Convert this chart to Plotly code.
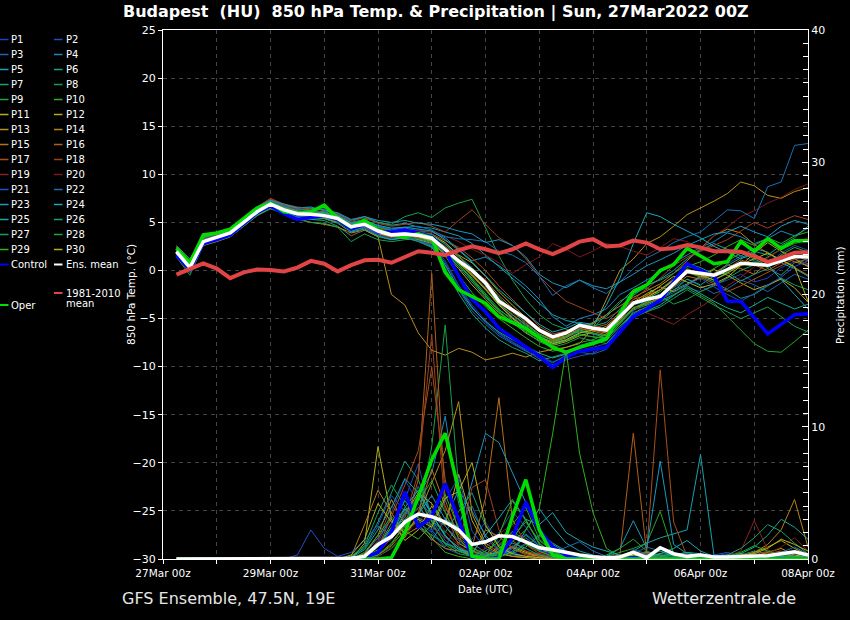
import pandas as pd
import plotly.graph_objects as go

# 6-hourly valid times, first step is 27Mar 06z
TIMES = pd.date_range("2022-03-27 06:00", periods=48, freq="6h")

DAYS = pd.date_range("2022-03-27", "2022-04-08", freq="D")
DAY_LABELS = ["27Mar 00z", "", "29Mar 00z", "", "31Mar 00z", "", "02Apr 00z", "",
              "04Apr 00z", "", "06Apr 00z", "", "08Apr 00z"]

# 850 hPa temperature (degC), 12 steps per row = 3 days
CLIM_T = [-0.44, 0.12, 0.74, 0.2, -0.8, -0.2, 0.1, 0.05, -0.1, 0.3, 1.0, 0.7,
          -0.1, 0.55, 1.05, 1.1, 0.8, 1.4, 2.0, 1.85, 1.6, 2.1, 2.5, 2.2,
          1.8, 2.2, 2.8, 2.2, 1.7, 2.3, 3.0, 3.25, 2.5, 2.6, 3.1, 2.9,
          2.2, 2.3, 2.65, 2.4, 2.0, 2.0, 1.95, 1.5, 0.9, 1.3, 1.85, 1.9]
MEAN_T = [1.95, 0.3, 3.0, 3.45, 3.9, 5.0, 6.1, 6.9, 6.3, 5.9, 5.85, 5.7,
          5.4, 4.55, 4.8, 4.1, 3.7, 3.8, 3.65, 3.35, 2.2, 1.0, 0.0, -1.3,
          -3.2, -4.1, -5.0, -6.2, -6.9, -6.5, -5.7, -6.0, -6.2, -4.8, -3.4, -3.0,
          -2.7, -1.4, -0.1, -0.3, -0.5, 0.1, 0.75, 0.65, 0.55, 1.0, 1.45, 1.4]
CONTROL_T = [1.6, 0.1, 2.8, 3.2, 3.7, 4.8, 6.0, 6.7, 5.9, 5.3, 5.5, 5.7,
             5.3, 4.3, 4.8, 4.0, 4.0, 4.2, 3.9, 3.5, 2.1, -0.6, -3.0, -4.3,
             -6.0, -7.0, -7.9, -8.9, -10.1, -9.0, -8.4, -8.2, -8.0, -6.4, -4.8, -4.0,
             -3.1, -1.2, 0.7, 0.0, -0.6, -3.2, -3.2, -4.9, -6.6, -5.6, -4.6, -4.5]
OPER_T = [2.3, 0.8, 3.7, 3.9, 4.3, 5.4, 6.5, 7.0, 6.1, 5.95, 6.1, 6.8,
          5.4, 4.5, 5.2, 4.2, 3.7, 3.5, 3.8, 3.4, -0.2, -2.0, -2.7, -3.4,
          -4.8, -5.4, -6.0, -7.0, -8.0, -8.5, -8.0, -7.6, -7.1, -4.5, -2.2, -1.5,
          0.0, 0.6, 2.3, 1.5, 0.7, 0.9, 3.0, 2.0, 3.3, 2.3, 3.1, 3.1]

T_P1 = [1.6, 0.5, 3.2, 3.6, 4.1, 5.2, 6.3, 7.0, 6.0, 5.6, 5.5, 5.9,
        5.3, 4.0, 4.6, 3.9, 3.5, 3.9, 3.3, 2.9, 1.0, -1.5, -3.6, -5.2,
        -6.5, -7.4, -8.2, -8.8, -9.5, -9.0, -8.3, -8.0, -7.6, -6.0, -4.5, -4.0,
        -3.3, -2.6, -1.8, -2.2, -1.5, -1.0, -0.4, -1.2, -0.8, 0.3, 0.9, 0.6]
T_P2 = [2.0, 0.2, 2.9, 3.3, 3.8, 4.9, 6.0, 6.9, 6.4, 6.0, 6.1, 5.6,
        5.5, 4.8, 5.0, 4.3, 3.9, 4.0, 3.8, 3.6, 2.8, 1.5, 0.2, -1.6,
        -3.5, -4.8, -5.8, -7.0, -7.5, -7.2, -6.4, -6.6, -6.8, -5.1, -3.6, -3.2,
        -2.0, -0.8, 0.4, 0.1, -0.5, 0.7, 1.5, 1.0, 0.6, 1.8, 2.6, 2.1]
T_P3 = [1.8, 0.0, 2.7, 3.1, 3.6, 4.7, 5.8, 6.6, 6.1, 5.7, 5.4, 5.5,
        5.1, 4.2, 4.4, 3.8, 3.4, 3.6, 3.2, 2.6, 0.5, -2.0, -4.2, -5.6,
        -6.8, -7.6, -8.4, -9.0, -9.6, -8.8, -8.5, -8.7, -8.2, -6.5, -4.2, -3.0,
        -2.5, -1.8, -0.9, -1.6, -2.4, -1.9, -1.0, -1.5, -2.2, -1.3, -0.4, -0.9]
T_P4 = [2.1, 0.6, 3.3, 3.7, 4.2, 5.3, 6.4, 7.3, 6.6, 6.2, 6.0, 5.9,
        5.8, 5.0, 5.3, 4.6, 4.2, 4.4, 4.1, 4.0, 3.4, 2.2, 1.0, 1.4,
        0.5, -0.5, -1.6, -3.0, -4.8, -5.8, -5.0, -4.6, -4.0, -2.5, -1.8, -1.0,
        -0.2, 0.8, 1.6, 2.4, 3.0, 3.9, 3.5, 2.8, 3.3, 4.1, 3.6, 4.4]
T_P5 = [2.2, 0.8, 3.4, 3.9, 4.3, 5.5, 6.5, 7.2, 6.8, 6.5, 6.6, 6.2,
        5.9, 5.2, 5.6, 5.0, 4.7, 4.9, 4.5, 4.4, 4.0, 3.6, 2.8, 1.6,
        0.5, -0.8, -2.0, -3.4, -4.6, -5.2, -5.5, -5.8, -5.4, -4.0, -2.6, -1.6,
        -0.9, 0.0, 1.2, 2.1, 2.8, 2.2, 1.5, 2.3, 1.9, 0.8, 0.2, -0.6]
T_P6 = [1.7, 0.1, 2.8, 3.2, 3.7, 4.8, 5.9, 6.7, 6.2, 5.8, 5.7, 5.5,
        5.2, 4.1, 4.5, 3.8, 3.3, 3.5, 3.6, 3.1, 1.8, 0.4, -1.2, -2.8,
        -4.1, -5.0, -5.9, -6.8, -7.5, -7.0, -6.3, -6.6, -7.0, -5.6, -4.1, -3.6,
        -3.0, -2.1, -0.9, -1.5, -0.6, -0.2, -1.1, -0.4, 0.2, -0.5, 0.8, 1.2]
T_P7 = [2.6, 1.2, 3.6, 3.7, 4.0, 5.1, 6.2, 6.8, 6.1, 5.5, 5.3, 5.2,
        4.6, 3.6, 4.2, 3.5, 3.2, 3.4, 3.1, 2.5, 0.2, -2.4, -4.5, -6.0,
        -7.2, -8.0, -8.6, -9.4, -9.0, -8.6, -7.8, -7.4, -6.9, -5.2, -3.9, -3.5,
        -2.8, -2.0, -1.4, -0.6, -1.2, -2.0, -2.9, -2.5, -1.6, -0.8, -1.5, -2.0]
T_P8 = [2.4, 0.9, 3.5, 3.8, 4.2, 5.3, 6.4, 7.1, 6.6, 6.3, 6.4, 6.5,
        5.8, 4.7, 5.4, 5.0, 4.8, 5.6, 6.0, 5.5, 6.5, 7.0, 7.4, 4.5,
        1.5, -1.0, -3.0, -4.6, -5.6, -6.1, -6.5, -6.0, -4.6, -3.2, -2.4, -1.8,
        -2.6, -3.5, -3.0, -2.2, -1.6, -0.8, 0.0, 0.6, 1.4, 2.2, 2.8, 3.2]
T_P9 = [1.9, 0.4, 3.1, 3.5, 3.9, 5.0, 6.2, 7.0, 6.4, 5.9, 5.9, 5.8,
        5.5, 4.6, 4.9, 4.2, 3.8, 3.8, 3.7, 3.3, 2.0, 0.6, -0.8, -2.4,
        -4.0, -5.2, -6.1, -7.0, -7.6, -7.3, -6.6, -6.9, -7.1, -5.5, -3.9, -3.3,
        -2.6, -1.2, 0.2, -0.4, -1.0, -0.2, 0.5, 0.9, 0.3, 1.2, 1.9, 1.5]
T_P10 = [2.0, 0.5, 3.0, 3.4, 3.9, 5.1, 6.0, 6.8, 6.2, 5.8, 5.6, 5.6,
         5.3, 4.4, 4.7, 4.0, 3.6, 3.7, 3.5, 3.0, 1.5, -0.5, -2.3, -3.8,
         -5.0, -6.0, -7.0, -7.9, -8.4, -8.0, -7.5, -7.2, -6.6, -5.0, -3.6, -2.9,
         -2.2, -1.0, 0.4, 0.9, 1.6, 2.5, 3.2, 2.6, 3.4, 2.8, 3.6, 4.0]
T_P11 = [2.3, 0.7, 3.3, 3.6, 4.0, 5.2, 6.3, 7.1, 6.5, 6.0, 5.8, 5.9,
         5.6, 4.9, 5.1, 4.4, 3.9, 4.0, 3.9, 3.7, 2.9, 1.6, 0.8, -0.6,
         -2.2, -3.6, -4.9, -6.2, -7.0, -6.6, -5.8, -6.2, -6.5, -5.2, -3.5, -2.6,
         -1.6, -0.6, -1.2, -1.8, -1.4, -0.7, 0.5, 1.8, 2.9, 2.0, 1.2, 0.4]
T_P12 = [1.5, -0.2, 2.6, 3.0, 3.5, 4.6, 5.7, 6.5, 6.0, 5.5, 5.6, 5.4,
         5.0, 4.3, 4.5, 3.9, 3.4, 3.3, 3.2, 2.8, 1.7, 0.2, -1.5, -3.0,
         -4.4, -5.4, -6.5, -7.3, -7.8, -7.4, -6.8, -6.4, -5.8, -4.6, -3.3, -2.4,
         -1.7, -2.2, -1.5, -0.7, 0.1, -0.5, -1.3, -2.0, -1.5, -0.9, -1.8, -3.3]
T_P13 = [2.0, 0.3, 3.1, 3.5, 4.1, 5.3, 6.5, 7.0, 6.1, 5.4, 5.0, 4.8,
         4.5, 3.9, 4.2, 3.5, -2.5, -3.6, -6.5, -8.3, -8.8, -8.1, -8.5, -9.3,
         -9.0, -8.6, -9.0, -8.5, -8.2, -8.0, -7.6, -6.0, -3.0, 0.0, 1.2, 2.8,
         3.5, 4.6, 5.8, 6.5, 7.2, 8.0, 9.2, 8.8, 7.8, 7.5, 8.2, 8.6]
T_P14 = [1.6, 0.0, 2.9, 3.4, 3.8, 4.8, 5.9, 6.7, 6.3, 6.0, 5.9, 5.6,
         5.2, 4.4, 4.6, 3.9, 3.5, 3.6, 3.4, 3.0, 2.0, 0.9, -0.4, -1.9,
         -3.6, -5.0, -6.2, -7.0, -7.4, -7.0, -6.1, -5.4, -4.6, -3.7, -2.8, -2.1,
         -1.4, -0.3, 1.0, 2.3, 3.6, 4.3, 3.9, 2.7, 1.8, 1.1, 0.3, -0.5]
T_P15 = [2.2, 0.6, 3.2, 3.7, 4.0, 5.2, 6.3, 7.2, 6.7, 6.2, 6.0, 5.8,
         5.6, 4.8, 4.8, 4.1, 3.7, 3.9, 3.8, 3.4, 2.5, 1.4, 0.1, -1.0,
         -2.6, -3.9, -5.3, -6.4, -7.1, -6.8, -6.0, -6.3, -6.7, -5.4, -4.0, -3.4,
         -2.9, -1.7, -0.6, -0.9, -0.3, 0.6, 0.2, -0.4, 0.8, 1.5, 0.9, 0.5]
T_P16 = [1.8, 0.2, 3.0, 3.4, 3.9, 5.0, 6.1, 7.0, 6.5, 6.1, 6.2, 5.9,
         5.5, 4.7, 4.9, 4.3, 3.8, 3.9, 3.6, 3.2, 2.1, 0.8, -0.6, -2.0,
         -3.4, -4.6, -5.6, -6.6, -7.2, -6.9, -6.2, -6.0, -5.6, -4.4, -3.0, -2.6,
         -2.0, -0.9, 0.1, -0.3, -0.8, 0.2, 1.1, 0.6, 0.0, 0.8, 1.6, 1.0]
T_P17 = [2.5, 1.0, 3.4, 3.6, 4.2, 5.4, 6.6, 7.4, 6.8, 6.4, 6.3, 6.1,
         5.7, 4.9, 5.2, 4.5, 4.1, 4.3, 4.0, 3.8, 3.1, 2.4, 1.3, 0.0,
         -1.6, -3.0, -4.4, -5.8, -6.6, -6.3, -5.6, -5.8, -6.1, -4.8, -3.4, -2.8,
         -2.0, -1.0, -0.2, -0.7, -1.4, -2.2, -1.6, -0.9, -0.2, 0.5, 1.2, 0.7]
T_P18 = [2.3, 0.8, 3.3, 3.7, 4.1, 5.3, 6.6, 7.5, 6.9, 6.6, 6.4, 6.3,
         5.9, 5.1, 5.5, 4.9, 4.6, 4.8, 5.0, 4.6, 4.0, 5.2, 6.3, 4.8,
         3.4, 2.6, 1.2, -0.6, -2.0, -3.2, -3.8, -4.4, -5.0, -4.2, -3.0, -1.9,
         -0.8, 0.5, 1.4, 2.0, 2.6, 3.2, 4.1, 5.0, 4.4, 5.1, 5.7, 5.3]
T_P19 = [2.1, 0.4, 3.1, 3.5, 4.0, 5.1, 6.2, 7.1, 6.4, 5.8, 5.7, 5.6,
         5.2, 3.6, 4.3, 3.7, 3.4, 3.6, 3.5, 3.2, 2.3, 1.1, -0.3, -1.8,
         -3.2, -4.4, -5.4, -6.3, -7.0, -6.6, -5.9, -6.2, -6.4, -5.0, -3.7, -4.4,
         -5.0, -5.6, -4.6, -3.8, -2.9, -1.6, -0.7, 0.4, 1.3, 2.2, 2.9, 3.4]
T_P20 = [1.9, 0.3, 3.0, 3.4, 3.8, 4.9, 6.0, 6.8, 6.4, 6.1, 6.0, 5.8,
         5.5, 4.7, 5.0, 4.4, 4.0, 4.1, 4.2, 4.0, 3.6, 3.0, 2.2, 1.6,
         0.8, -0.3, 0.6, 1.4, 2.8, 2.2, 1.4, 2.0, 2.8, 2.5, 2.0, 1.6,
         2.4, 3.3, 3.0, 2.2, 3.6, 4.5, 5.6, 6.2, 7.0, 7.6, 8.4, 9.0]
T_P21 = [1.7, 0.1, 2.8, 3.3, 3.8, 4.9, 6.0, 6.8, 6.1, 5.6, 5.5, 5.6,
         5.2, 4.3, 4.5, 3.7, 3.3, 3.5, 3.1, 2.7, 0.8, -1.6, -3.8, -5.4,
         -6.6, -7.5, -8.3, -9.2, -9.8, -9.3, -8.9, -8.6, -7.8, -6.2, -4.6, -3.8,
         -3.0, -2.3, -1.5, -0.8, -1.7, -2.5, -3.2, -2.4, -1.5, -0.7, 0.4, 1.0]
T_P22 = [2.2, 0.6, 3.2, 3.6, 4.0, 5.2, 6.4, 7.2, 6.7, 6.3, 6.2, 6.0,
         5.6, 4.9, 5.1, 4.6, 4.3, 4.5, 4.6, 4.2, 3.5, 3.3, 3.2, 3.0,
         2.0, 1.6, 0.8, -0.6, -2.6, -1.6, -1.0, -1.8, -2.4, -1.2, 0.2, 1.3,
         2.0, 2.9, 3.5, 4.0, 5.2, 6.3, 6.2, 5.4, 8.7, 9.2, 13.0, 13.2]
T_P23 = [2.4, 0.9, 3.5, 3.9, 4.4, 5.5, 6.6, 7.3, 6.9, 6.5, 6.5, 6.3,
         6.0, 5.3, 5.6, 5.2, 5.0, 5.2, 4.9, 4.8, 4.5, 4.1, 3.8, 2.9,
         3.2, 2.6, 1.4, -0.4, -1.3, -1.8, -1.0, -1.6, -1.9, -1.2, -0.4, 0.5,
         1.1, 1.8, 2.6, 3.2, 3.8, 4.0, 4.6, 4.0, 3.5, 4.6, 5.2, 4.8]
T_P24 = [2.0, 0.5, 3.1, 3.6, 4.0, 5.1, 6.2, 7.0, 6.5, 6.1, 6.1, 6.0,
         5.7, 4.9, 5.2, 4.7, 4.4, 4.5, 4.3, 4.1, 3.2, 2.1, 0.9, -0.6,
         -2.0, -3.2, -4.4, -5.6, -6.4, -6.0, -5.4, -5.6, -3.6, -0.8, 2.8, 6.0,
         5.6, 4.8, 4.1, 3.4, 2.5, 1.9, 1.2, 1.8, 0.6, -1.0, -2.5, -4.0]
T_P25 = [1.6, -0.1, 2.7, 3.2, 3.6, 4.7, 5.8, 6.6, 6.0, 5.5, 5.3, 5.4,
         4.9, 4.0, 4.3, 3.6, 3.2, 3.4, 3.0, 2.4, 0.6, -1.9, -3.9, -5.3,
         -6.4, -7.2, -7.9, -8.6, -9.1, -8.7, -8.0, -7.6, -7.3, -5.8, -4.6, -4.2,
         -3.6, -2.6, -1.6, -2.4, -3.2, -3.9, -4.4, -3.6, -2.8, -3.4, -4.0, -3.5]
T_P26 = [2.4, 1.0, 3.4, 3.8, 4.1, 5.2, 6.3, 7.0, 6.5, 6.1, 6.0, 6.1,
         5.6, 4.9, 5.0, 4.5, 4.1, 4.2, 4.0, 3.7, 2.7, 1.5, 0.3, -1.2,
         -2.8, -4.2, -5.5, -6.6, -7.3, -6.9, -6.1, -5.5, -4.8, -3.4, -2.0, -1.5,
         -1.0, -0.3, 0.7, 0.3, -0.4, 0.5, 1.3, 2.0, 1.6, 2.6, 3.4, 4.6]
T_P27 = [1.4, -0.5, 2.6, 3.1, 3.5, 4.6, 5.7, 6.4, 5.9, 5.3, 5.0, 4.9,
         4.5, 3.0, 3.8, 3.2, 3.0, 3.2, 3.3, 2.9, 1.9, 0.7, -0.9, -2.5,
         -4.2, -5.5, -6.4, -7.4, -8.0, -7.6, -7.0, -7.3, -7.6, -6.2, -4.9, -4.3,
         -3.8, -2.9, -2.0, -2.8, -3.6, -4.3, -5.0, -4.4, -3.8, -4.8, -5.8, -6.4]
T_P28 = [2.1, 0.4, 3.0, 3.5, 3.9, 5.0, 6.1, 6.9, 6.3, 5.8, 5.8, 5.7,
         5.4, 4.5, 4.8, 4.2, 3.8, 3.7, 3.5, 3.1, 1.9, 0.6, -1.0, -2.6,
         -4.3, -5.4, -6.3, -7.1, -7.7, -7.3, -6.7, -6.9, -7.0, -5.8, -4.4, -3.8,
         -3.2, -2.5, -1.8, -2.6, -3.4, -4.8, -6.2, -7.6, -8.4, -8.5, -7.4, -6.2]
T_P29 = [2.0, 0.5, 3.1, 3.5, 4.0, 5.1, 6.3, 7.1, 6.5, 6.1, 6.0, 5.9,
         5.6, 4.6, 4.9, 4.2, 3.8, 3.9, 3.7, 3.4, 2.3, 1.0, -0.4, -1.9,
         -3.5, -4.6, -5.7, -6.7, -7.3, -6.9, -6.2, -6.5, -6.8, -5.4, -3.9, -3.3,
         -2.6, -1.5, -0.2, -0.6, 0.2, 1.0, 1.8, 1.2, 0.5, 1.6, 2.4, 1.9]
T_P30 = [1.8, 0.2, 2.9, 3.4, 3.8, 4.9, 6.0, 6.8, 6.2, 5.8, 5.7, 5.5,
         5.3, 4.4, 4.7, 4.0, 3.6, 3.7, 3.5, 3.1, 2.0, 0.8, -0.5, -2.0,
         -3.6, -4.9, -6.0, -6.9, -7.6, -7.2, -6.5, -6.2, -6.0, -4.8, -3.5, -2.8,
         -2.0, -1.0, -0.1, -0.5, -1.0, -0.3, 0.6, 1.2, 1.8, 1.1, 0.4, -3.2]

# 6-hourly precipitation (mm), full run for the main lines
MEAN_P = [0, 0, 0, 0, 0, 0, 0, 0, 0, 0, 0.05, 0.02,
          0, 0.05, 0.2, 1.1, 1.7, 2.8, 3.4, 3.2, 2.8, 2.2, 1.1, 1.3,
          1.75, 1.7, 1.3, 0.85, 0.7, 0.5, 0.3, 0.17, 0.1, 0.15, 0.5, 0.1,
          0.85, 0.4, 0.2, 0.3, 0.15, 0.15, 0.2, 0.2, 0.25, 0.4, 0.55, 0.3]
CONTROL_P = [0, 0, 0, 0, 0, 0, 0, 0, 0, 0, 0, 0,
             0, 0, 0.1, 0.5, 2.0, 5.1, 2.4, 3.2, 5.7, 3.0, 0.1, 0.0,
             0.1, 1.6, 4.3, 2.2, 0.9, 0.3, 0.1, 0, 0, 0, 0.1, 0,
             0, 0, 0, 0, 0, 0, 0, 0, 0, 0, 0, 0]
OPER_P = [0, 0, 0, 0, 0, 0, 0, 0, 0, 0, 0, 0,
          0, 0, 0, 0, 0.1, 2.0, 4.7, 7.5, 9.5, 5.2, 0.2, 0.0,
          0.0, 3.2, 6.0, 2.2, 0.3, 0, 0, 0, 0, 0, 0, 0,
          0, 0, 0, 0, 0, 0, 0, 0, 0, 0, 0, 0]

# members: dry until 29Mar 06z, so these start at the 9th step
P_START = 8
R_P1 = [0, 0, 0, 0, 0, 0, 0.3, 1.2, 3.5, 6.0,
        4.2, 2.0, 0.8, 0.4, 1.5, 2.8, 1.2, 0.5, 0.2, 0.1,
        0, 0, 0, 0.2, 0.1, 0, 0, 0.3, 0.1, 0,
        0, 0.1, 0.2, 0, 0, 0, 0.1, 0.3, 0.2, 0.1]
R_P2 = [0, 0, 0, 0, 0, 0, 0.1, 0.6, 2.2, 4.5,
        7.2, 3.0, 1.4, 0.6, 0.2, 0.8, 2.0, 3.6, 2.4, 0.9,
        0.3, 0.1, 0, 0, 0, 0.2, 0.5, 0.2, 0, 0,
        0, 0, 0.2, 0.4, 0.1, 0, 0, 0.2, 0.5, 0.3]
R_P3 = [0, 0, 0, 0, 0, 0.2, 0.8, 2.5, 1.8, 3.2,
        5.5, 2.2, 0.9, 2.8, 4.0, 1.6, 0.6, 0.3, 0.2, 0.1,
        0, 0, 0, 0, 0, 0.1, 0.4, 0.9, 0.6, 0.3,
        0.1, 0, 0, 0, 0, 0.2, 0.3, 0.1, 0, 0]
R_P4 = [0, 0, 0, 0, 0, 0, 0.4, 1.6, 3.0, 2.4,
        4.8, 6.5, 10.8, 4.2, 1.2, 0.5, 0.3, 0.9, 1.6, 0.8,
        0.4, 0.2, 0.1, 0, 0, 0, 0.2, 0.1, 0, 0,
        0, 0.3, 0.1, 0, 0, 0, 0, 0.1, 0.4, 0.2]
R_P5 = [0, 0, 0, 0, 0, 0, 0, 0.5, 1.9, 3.8,
        2.6, 1.4, 3.0, 5.2, 3.6, 1.8, 0.7, 0.4, 2.2, 3.8,
        2.4, 1.2, 0.6, 0.3, 0.1, 0, 0.6, 1.2, 1.6, 1.9,
        2.2, 7.9, 0.3, 0.1, 0, 0, 0, 0.2, 0.6, 0.3]
R_P6 = [0, 0, 0, 0, 0, 0, 0.2, 0.9, 2.7, 4.4,
        3.1, 2.6, 1.2, 0.8, 0.3, 0.1, 1.0, 2.1, 1.4, 0.6,
        0.2, 0.1, 0, 0, 0, 0, 0, 0, 0.1, 0.3,
        0.5, 0.2, 0, 0, 0.2, 0.4, 0.2, 0.1, 0, 0]
R_P7 = [0, 0, 0, 0, 0, 0.1, 0.9, 2.8, 5.0, 7.4,
        6.0, 3.3, 1.8, 0.7, 0.3, 0.2, 0.4, 1.5, 3.0, 1.1,
        0.5, 0.2, 0.1, 0, 0, 0, 0, 0.3, 0.2, 0,
        0, 0, 0, 0.1, 0.3, 0.6, 0.4, 0.1, 0, 0]
R_P8 = [0, 0, 0, 0, 0, 0, 0, 0.2, 0.8, 1.9,
        3.2, 8.5, 17.7, 5.5, 0.9, 0.3, 0.1, 0.6, 1.8, 1.0,
        0.4, 0.2, 0, 0, 0, 0, 0.1, 0.3, 0.6, 0.2,
        0, 0, 0.1, 0.2, 0, 0, 0.3, 0.5, 0.2, 0]
R_P9 = [0, 0, 0, 0, 0, 0, 0.2, 0.7, 1.5, 3.6,
        4.7, 2.8, 1.1, 0.4, 0.2, 0.6, 1.3, 2.6, 3.9, 1.5,
        0.6, 0.3, 0.1, 0, 0.2, 0.5, 0.8, 1.2, 3.6, 0.4,
        0, 0, 0, 0.2, 0.4, 0.1, 0, 0, 0.2, 0.4]
R_P10 = [0, 0, 0, 0, 0, 0, 0, 0.3, 1.0, 2.2,
         3.0, 1.6, 0.5, 0.2, 0, 0, 0.4, 1.3, 2.2, 3.8,
         9.5, 15.8, 8.0, 3.5, 0.8, 0.2, 0, 0, 0.1, 0,
         0, 0.1, 0.2, 0, 0, 0, 0.1, 0.2, 0, 0]
R_P11 = [0, 0, 0, 0, 0, 0, 1.2, 8.5, 3.0, 1.4,
         2.2, 4.0, 2.5, 1.2, 0.6, 0.3, 0.5, 0.9, 0.5, 0.2,
         0.1, 0, 0, 0, 0, 0.2, 0.6, 0.3, 0, 0,
         0, 0, 0, 0.1, 0.2, 0.5, 0.9, 1.4, 0.8, 0.3]
R_P12 = [0, 0, 0, 0, 0, 0, 0.1, 0.5, 1.8, 3.4,
         5.0, 4.2, 2.6, 6.4, 2.9, 1.0, 0.4, 0.2, 0.1, 0.4,
         0.8, 0.4, 0.2, 0, 0, 0, 0.3, 0.5, 0.2, 0,
         0, 0, 0.1, 0.2, 0.4, 0.2, 0.5, 0.8, 0.3, 0.1]
R_P13 = [0, 0, 0, 0, 0, 0, 0.4, 1.8, 4.5, 2.6,
         3.3, 5.8, 8.2, 11.9, 3.4, 1.2, 0.5, 0.2, 0.1, 0,
         0, 0, 0, 0, 0, 0.1, 0.4, 0.2, 0, 0,
         0, 0, 0, 0.1, 0.3, 0.2, 0.1, 0.3, 0.6, 0.2]
R_P14 = [0, 0, 0, 0, 0, 0.2, 2.6, 5.2, 3.5, 1.8,
         2.4, 1.5, 0.8, 0.6, 0.3, 2.2, 1.7, 0.8, 0.4, 0.2,
         0.1, 0, 0, 0, 0, 0, 0.2, 0.5, 0.3, 0,
         0, 0, 0, 0, 0.2, 0.5, 1.1, 2.2, 4.5, 0.9]
R_P15 = [0, 0, 0, 0, 0, 0, 0.2, 1.0, 2.4, 1.6,
         3.5, 6.8, 4.0, 1.8, 0.9, 4.6, 12.2, 3.0, 1.1, 0.4,
         0.2, 0.1, 0, 0, 0, 0.2, 0.5, 0.3, 0.1, 0,
         0, 0, 0, 0, 0.3, 0.1, 0, 0, 0.2, 0.1]
R_P16 = [0, 0, 0, 0, 0, 0, 0, 0.3, 1.1, 2.5,
         6.0, 21.6, 4.5, 1.5, 0.6, 0.3, 0.8, 1.4, 0.6, 0.2,
         0.1, 0, 0, 0, 0, 0.3, 9.5, 0.4, 0.1, 0,
         0, 0, 0.1, 0.3, 0.2, 0, 0.4, 0.6, 0.2, 0]
R_P17 = [0, 0, 0, 0, 0, 0, 0.1, 0.9, 3.2, 5.6,
         8.2, 14.5, 6.0, 2.0, 0.7, 0.2, 0.4, 1.0, 0.6, 0.3,
         0.1, 0, 0, 0, 0, 0, 0.2, 0.6, 14.3, 2.8,
         0.2, 0, 0, 0, 0, 0, 0.1, 0.3, 0.2, 0]
R_P18 = [0, 0, 0, 0, 0, 0, 0.2, 1.4, 4.0, 3.1,
         6.5, 17.0, 3.6, 1.0, 5.4, 6.0, 2.2, 0.8, 0.3, 0.1,
         0, 0, 0, 0, 0, 0, 0.1, 0.2, 0.1, 0,
         0, 0, 0, 0, 0, 0.3, 0.6, 0.2, 0, 0]
R_P19 = [0, 0, 0, 0, 0, 0, 0.1, 0.4, 1.6, 2.9,
         3.8, 2.4, 1.6, 0.9, 0.5, 0.3, 1.1, 2.0, 1.2, 0.4,
         0.1, 0, 0, 0, 0, 0, 0, 0, 0.2, 0.1,
         0, 0, 0.1, 0.2, 0.6, 2.9, 0.7, 0.3, 0.1, 0]
R_P20 = [0, 0, 0, 0, 0, 0, 0, 0.2, 0.9, 1.8,
         2.9, 3.6, 2.1, 1.0, 0.4, 0.8, 1.9, 2.6, 1.4, 0.5,
         0.2, 0, 0, 0, 0, 0, 0, 0.1, 0, 0,
         0, 0, 0, 0, 0, 0.2, 0.4, 0.9, 1.6, 0.6]
R_P21 = [0, 0.3, 2.2, 0.8, 0.2, 0.5, 1.4, 2.6, 4.8, 3.6,
         2.8, 2.0, 4.4, 6.2, 2.1, 0.8, 0.3, 0.6, 1.2, 0.7,
         0.3, 0.1, 0, 0, 0, 0, 0.2, 0.4, 0.2, 0,
         0, 0, 0.3, 0.5, 0.2, 0, 0, 0.1, 0, 0]
R_P22 = [0, 0, 0, 0, 0, 0, 0.3, 1.1, 2.0, 3.4,
         4.6, 3.2, 2.5, 1.4, 0.6, 0.3, 0.2, 0.8, 1.9, 1.0,
         0.4, 0.9, 1.3, 0.6, 0.2, 0, 0.7, 0.4, 0.1, 0,
         0, 0.1, 0.3, 0.2, 0, 0.1, 0.2, 0.5, 0.9, 0.4]
R_P23 = [0, 0, 0, 0, 0, 0, 0.1, 0.6, 1.6, 2.7,
         3.4, 4.8, 3.0, 2.4, 5.8, 9.5, 8.8, 6.5, 4.2, 2.0,
         1.2, 0.6, 0.3, 0.1, 0.2, 0.8, 2.9, 0.8, 7.4, 1.1,
         0.4, 0.2, 0.1, 0, 0, 0.1, 0.3, 0.2, 0.1, 0]
R_P24 = [0, 0, 0, 0, 0, 0, 0.2, 0.9, 2.2, 3.9,
         5.2, 3.4, 1.8, 0.7, 0.5, 1.8, 3.1, 4.5, 3.0, 2.6,
         3.5, 2.0, 1.4, 0.9, 0.6, 0.3, 0.1, 0.2, 0.4, 0.8,
         1.4, 0.6, 0.2, 0.1, 0, 0, 0.3, 0.4, 0.2, 0.1]
R_P25 = [0, 0, 0, 0, 0, 0.1, 0.7, 2.2, 3.9, 6.1,
         5.0, 3.4, 1.7, 0.9, 0.3, 0.2, 0.6, 1.2, 0.8, 0.3,
         0.1, 0, 0, 0, 0, 0, 0.1, 0.2, 0.4, 0.3,
         0.5, 0.4, 0.2, 0.1, 0.4, 0.9, 1.8, 3.0, 2.4, 1.5]
R_P26 = [0, 0, 0, 0, 0, 0, 0.3, 1.0, 2.4, 3.0,
         3.9, 2.9, 2.0, 3.6, 5.0, 2.5, 1.0, 0.4, 0.9, 1.8,
         1.1, 0.5, 0.2, 0.1, 0, 0, 0, 0.1, 0.3, 0.2,
         0.1, 0, 0, 0.3, 0.8, 1.6, 2.6, 2.1, 1.2, 0.4]
R_P27 = [0, 0, 0, 0, 0, 0.2, 1.0, 3.5, 5.6, 4.0,
         2.5, 1.8, 1.2, 0.6, 0.2, 0.1, 0.5, 1.6, 2.8, 1.4,
         0.6, 0.2, 0.1, 0, 0, 0, 0.4, 0.2, 0, 0,
         0, 0, 0, 0.1, 0.1, 0.2, 0.3, 0.1, 0, 0]
R_P28 = [0, 0, 0, 0, 0, 0, 0.1, 0.3, 1.2, 2.6,
         4.4, 5.9, 3.5, 1.6, 0.8, 0.4, 0.2, 0.5, 1.1, 0.6,
         0.2, 0.1, 0, 0, 0.3, 0.8, 1.5, 0.6, 0.2, 0.1,
         0, 0, 0, 0.2, 0.5, 1.0, 0.6, 0.3, 0.1, 0]
R_P29 = [0, 0, 0, 0, 0, 0, 0.5, 1.8, 3.2, 2.1,
         1.5, 2.6, 4.9, 2.3, 0.6, 0.2, 1.8, 4.4, 2.9, 1.2,
         0.4, 0.2, 0.1, 0, 0, 0, 0, 0.2, 0.1, 0,
         0, 0, 0.1, 0.3, 0.2, 0, 0, 0.1, 0.2, 0.1]
R_P30 = [0, 0, 0, 0, 0, 0.3, 1.5, 4.2, 2.8, 2.0,
         3.0, 2.4, 4.6, 5.1, 7.3, 2.6, 0.9, 0.4, 0.2, 0.1,
         0, 0, 0, 0, 0, 0.1, 0.3, 0.2, 0, 0,
         0, 0, 0, 0.1, 0.2, 0.4, 0.8, 1.5, 1.1, 0.6]

MEMBER_COLORS = ["#2040c0", "#1f4fb8", "#1a66b0", "#1a88c0", "#18a0b0", "#18a08a",
                 "#18a070", "#18a048", "#20a828", "#30b020", "#b0b018", "#b8a818",
                 "#b89018", "#b88018", "#b87018", "#b06018", "#a85018", "#a04020",
                 "#8a2020", "#801818", "#2050c0", "#1a70b8", "#1a98c0", "#18a8b8",
                 "#18a890", "#18a070", "#18a050", "#20a830", "#30b020", "#b0b018"]

MEMBER_T = [T_P1, T_P2, T_P3, T_P4, T_P5, T_P6, T_P7, T_P8, T_P9, T_P10,
            T_P11, T_P12, T_P13, T_P14, T_P15, T_P16, T_P17, T_P18, T_P19, T_P20,
            T_P21, T_P22, T_P23, T_P24, T_P25, T_P26, T_P27, T_P28, T_P29, T_P30]
MEMBER_R = [R_P1, R_P2, R_P3, R_P4, R_P5, R_P6, R_P7, R_P8, R_P9, R_P10,
            R_P11, R_P12, R_P13, R_P14, R_P15, R_P16, R_P17, R_P18, R_P19, R_P20,
            R_P21, R_P22, R_P23, R_P24, R_P25, R_P26, R_P27, R_P28, R_P29, R_P30]

CONTROL_COLOR = "#0000ff"
MEAN_COLOR = "#ffffff"
OPER_COLOR = "#00dd00"
CLIM_COLOR = "#e04444"

FONT = "DejaVu Sans"

# plot area in pixels (left, right, top, bottom)
L, R, T, B = 163, 808, 30, 559


def fx(px):
    """pixel x -> paper coordinate"""
    return (px - L) / (R - L)


def fy(py):
    """pixel y -> paper coordinate"""
    return (B - py) / (B - T)


def full_rain(values):
    """members are only listed from P_START on, earlier steps are dry"""
    vals = [0.0] * P_START + list(values)
    vals = vals + [0.0] * (len(TIMES) - len(vals))
    return vals[:len(TIMES)]


fig = go.Figure()

# ensemble members, temperature and precipitation
for i in range(30):
    col = MEMBER_COLORS[i]
    fig.add_trace(go.Scatter(x=TIMES, y=MEMBER_T[i], mode="lines",
                             line=dict(color=col, width=1), yaxis="y",
                             hoverinfo="skip", name="P%d" % (i + 1)))
    fig.add_trace(go.Scatter(x=TIMES, y=full_rain(MEMBER_R[i]), mode="lines",
                             line=dict(color=col, width=1), yaxis="y2",
                             hoverinfo="skip", name="P%d" % (i + 1)))

# main lines
for yv, yp, col, w in [(CONTROL_T, CONTROL_P, CONTROL_COLOR, 3.5),
                       (OPER_T, OPER_P, OPER_COLOR, 3.5),
                       (MEAN_T, MEAN_P, MEAN_COLOR, 3.5)]:
    fig.add_trace(go.Scatter(x=TIMES, y=yv, mode="lines", yaxis="y",
                             line=dict(color=col, width=w), hoverinfo="skip"))
    fig.add_trace(go.Scatter(x=TIMES, y=yp, mode="lines", yaxis="y2",
                             line=dict(color=col, width=w), hoverinfo="skip"))

fig.add_trace(go.Scatter(x=TIMES, y=CLIM_T, mode="lines", yaxis="y",
                         line=dict(color=CLIM_COLOR, width=4), hoverinfo="skip"))

# hand-made two column legend on the left
shapes = []
notes = []


def legend_item(x_line, x_text, y, color, text, width=1.5):
    shapes.append(dict(type="line", xref="paper", yref="paper",
                       x0=fx(x_line), x1=fx(x_line + 8.5), y0=fy(y), y1=fy(y),
                       line=dict(color=color, width=width)))
    if text:
        notes.append(dict(xref="paper", yref="paper", x=fx(x_text), y=fy(y),
                          text=text, showarrow=False, xanchor="left", yanchor="middle",
                          font=dict(family=FONT, size=10, color="white")))


for k in range(15):
    y = 39.5 + 15 * k
    legend_item(0, 8.5, y, MEMBER_COLORS[2 * k], "P%d" % (2 * k + 1))
    legend_item(54, 63.5, y, MEMBER_COLORS[2 * k + 1], "P%d" % (2 * k + 2))
legend_item(0, 8.5, 264.5, CONTROL_COLOR, "Control", 2)
legend_item(54, 63.5, 264.5, MEAN_COLOR, "Ens. mean", 2)
legend_item(54, 63.5, 293, CLIM_COLOR, "1981-2010", 2)
legend_item(0, 8.5, 305, OPER_COLOR, "Oper", 2)
notes.append(dict(xref="paper", yref="paper", x=fx(63.5), y=fy(303.5), text="mean",
                  showarrow=False, xanchor="left", yanchor="middle",
                  font=dict(family=FONT, size=10, color="white")))

# titles and footer texts
notes.append(dict(xref="paper", yref="paper", x=fx(435.5), y=fy(12),
                  text="Budapest\u00a0 (HU)\u00a0 850 hPa Temp. & Precipitation | Sun, 27Mar2022 00Z",
                  showarrow=False, xanchor="center", yanchor="middle",
                  font=dict(family=FONT, size=16, color="white", weight="bold")))
notes.append(dict(xref="paper", yref="paper", x=fx(131), y=fy(295),
                  text="850 hPa Temp. (°C)", textangle=-90, showarrow=False,
                  xanchor="center", yanchor="middle",
                  font=dict(family=FONT, size=10.5, color="white")))
notes.append(dict(xref="paper", yref="paper", x=fx(840), y=fy(295),
                  text="Precipitation (mm)", textangle=-90, showarrow=False,
                  xanchor="center", yanchor="middle",
                  font=dict(family=FONT, size=10.5, color="white")))
notes.append(dict(xref="paper", yref="paper", x=fx(485.5), y=fy(589),
                  text="Date (UTC)", showarrow=False, xanchor="center", yanchor="middle",
                  font=dict(family=FONT, size=10, color="white")))
notes.append(dict(xref="paper", yref="paper", x=fx(120), y=fy(598),
                  text="GFS Ensemble, 47.5N, 19E", showarrow=False,
                  xanchor="left", yanchor="middle",
                  font=dict(family=FONT, size=16, color="#e6e6e6")))
notes.append(dict(xref="paper", yref="paper", x=fx(650), y=fy(598),
                  text="Wetterzentrale.de", showarrow=False,
                  xanchor="left", yanchor="middle",
                  font=dict(family=FONT, size=16, color="#e6e6e6")))

fig.update_layout(
    width=850,
    height=620,
    margin=dict(l=L, r=850 - R, t=T, b=620 - B),
    paper_bgcolor="black",
    plot_bgcolor="black",
    font=dict(family=FONT, color="white", size=10),
    showlegend=False,
    shapes=shapes,
    annotations=notes,
    xaxis=dict(type="date", range=[DAYS[0], DAYS[-1]],
               tickvals=list(DAYS), ticktext=DAY_LABELS,
               showgrid=True, gridcolor="#444444", griddash="4px,4px", gridwidth=1,
               showline=True, linecolor="white", linewidth=1, mirror=True,
               ticks="outside", ticklen=4, tickcolor="white",
               tickfont=dict(size=10.5), zeroline=False),
    yaxis=dict(range=[-30, 25], tick0=-30, dtick=5,
               showgrid=True, gridcolor="#444444", griddash="4px,4px", gridwidth=1,
               showline=True, linecolor="white", linewidth=1,
               ticks="outside", ticklen=4, tickcolor="white",
               tickfont=dict(size=11), zeroline=False),
    yaxis2=dict(range=[0, 40], tick0=0, dtick=10, overlaying="y", side="right",
                showgrid=False, zeroline=False,
                showline=True, linecolor="white", linewidth=1,
                ticks="inside", ticklen=6, tickcolor="white",
                minor=dict(dtick=1, ticks="inside", ticklen=5, tickcolor="white"),
                tickfont=dict(size=11)),
)

# the page body has a default 8px margin, drop it so the figure sits at 0,0
fig.write_html("out.html", config={"displayModeBar": False},
               post_script="document.body.style.margin = '0';")
